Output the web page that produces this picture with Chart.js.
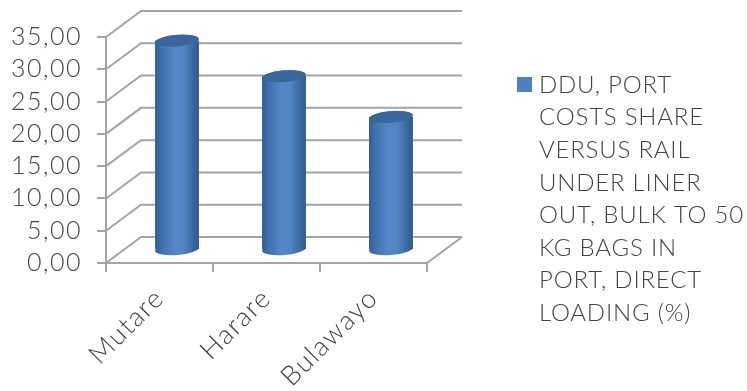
<!DOCTYPE html>
<html>
<head>
<meta charset="utf-8">
<script src="https://cdn.jsdelivr.net/npm/chart.js@4/dist/chart.umd.min.js"></script>
<style>
  html, body { margin: 0; padding: 0; background: #fff; }
  #box { width: 747px; height: 391px; }
  canvas { filter: blur(0.7px); }
</style>
</head>
<body>
<div id="box"><canvas id="grafico" width="747" height="391"></canvas></div>
<script>
const ciudades = ["Mutare", "Harare", "Bulawayo"];
const valores = [32.4, 26.9, 20.6];
const etiquetaSerie = "DDU, PORT COSTS SHARE VERSUS RAIL UNDER LINER OUT, BULK TO 50 KG BAGS IN PORT, DIRECT LOADING (%)";
const lineasLeyenda = ["DDU, PORT", "COSTS SHARE", "VERSUS RAIL", "UNDER LINER", "OUT, BULK TO 50", "KG BAGS IN", "PORT, DIRECT", "LOADING (%)"];

const fuente = "Lato, 'Open Sans', sans-serif";
const gris = '#a4a4a4';
const textoGris = '#444444';
const fondoX = 35, fondoY = -26;      // profundidad de la caja 3D
const radioY = 6, inclinacion = -0.08;

function degradado(ctx, xc, ancho) {
    const g = ctx.createLinearGradient(xc - ancho / 2, 0, xc + ancho / 2, 0);
    g.addColorStop(0, '#2f5d94');
    g.addColorStop(0.12, '#3d6ea9');
    g.addColorStop(0.45, '#5688c9');
    g.addColorStop(0.65, '#5184c3');
    g.addColorStop(0.9, '#37649b');
    g.addColorStop(1, '#2f5a8e');
    return g;
}

// paredes, cilindros y leyenda
const caja3d = {
    id: 'caja3d',
    beforeDraw(chart) {
        chart.ctx.letterSpacing = '1.5px';
    },
    beforeDatasetsDraw(chart) {
        const { ctx, chartArea: a, scales: { y } } = chart;
        ctx.save();
        ctx.strokeStyle = gris;
        ctx.lineWidth = 2;
        y.ticks.forEach(t => {
            const py = y.getPixelForValue(t.value);
            ctx.beginPath();
            ctx.moveTo(a.left, py);
            ctx.lineTo(a.left + fondoX, py + fondoY);
            ctx.lineTo(a.right + fondoX, py + fondoY);
            ctx.stroke();
        });
        ctx.beginPath();
        ctx.moveTo(a.right, a.bottom);
        ctx.lineTo(a.right + fondoX, a.bottom + fondoY);
        ctx.stroke();
        ctx.restore();
    },
    beforeDatasetDraw(chart, args) {
        const ctx = chart.ctx;
        ctx.save();
        ctx.translate(fondoX / 2, fondoY / 2);
        // base de cada cilindro
        chart.getDatasetMeta(args.index).data.forEach(b => {
            ctx.fillStyle = degradado(ctx, b.x, b.width);
            ctx.beginPath();
            ctx.ellipse(b.x, b.base, b.width / 2, radioY, inclinacion, 0, Math.PI * 2);
            ctx.fill();
        });
    },
    afterDatasetDraw(chart, args) {
        const ctx = chart.ctx;
        // tapa de cada cilindro
        chart.getDatasetMeta(args.index).data.forEach(b => {
            ctx.fillStyle = degradado(ctx, b.x, b.width);
            ctx.beginPath();
            ctx.ellipse(b.x, b.y, b.width / 2, radioY, inclinacion, 0, Math.PI * 2);
            ctx.fill();
            ctx.fillStyle = '#3b6699';
            ctx.beginPath();
            ctx.ellipse(b.x, b.y, b.width / 2 - 0.5, radioY - 0.3, inclinacion, 0, Math.PI * 2);
            ctx.fill();
        });
        ctx.restore();
    },
    afterDraw(chart) {
        const ctx = chart.ctx;
        ctx.save();
        ctx.fillStyle = '#4f81bd';
        ctx.fillRect(517, 77, 15, 15);
        ctx.fillStyle = textoGris;
        ctx.font = '300 24px ' + fuente;
        ctx.letterSpacing = '0.8px';
        ctx.textBaseline = 'middle';
        lineasLeyenda.forEach((l, i) => ctx.fillText(l, 539, 85 + i * 32.6));
        ctx.restore();
    }
};

new Chart(document.getElementById('grafico'), {
    type: 'bar',
    data: {
        labels: ciudades,
        datasets: [{
            label: etiquetaSerie,
            data: valores,
            clip: false,
            barPercentage: 0.41,
            categoryPercentage: 1,
            backgroundColor: c => {
                const x = c.dataIndex === undefined ? NaN : c.chart.scales.x.getPixelForValue(c.dataIndex);
                return isFinite(x) ? degradado(c.chart.ctx, x, 44) : '#4f81bd';
            }
        }]
    },
    plugins: [caja3d],
    options: {
        responsive: false,
        animation: false,
        layout: { padding: { top: 37, right: 320, left: 0, bottom: 0 } },
        plugins: { legend: { display: false }, tooltip: { enabled: false } },
        scales: {
            x: {
                afterFit(scale) { scale.height = 128; },
                grid: { offset: true, drawOnChartArea: false, color: gris, lineWidth: 2, tickLength: 9 },
                border: { color: gris, width: 2 },
                ticks: {
                    color: textoGris,
                    autoSkip: false,
                    minRotation: 45,
                    maxRotation: 45,
                    padding: 10,
                    font: { family: fuente, size: 27, weight: '300' }
                }
            },
            y: {
                min: 0,
                max: 35,
                afterFit(scale) { scale.width = 106; },
                grid: { drawOnChartArea: false, color: gris, lineWidth: 2, tickLength: 9 },
                border: { color: gris, width: 2 },
                ticks: {
                    stepSize: 5,
                    autoSkip: false,
                    color: textoGris,
                    padding: 15,
                    font: { family: fuente, size: 25, weight: '300' },
                    callback: v => v.toFixed(2).replace('.', ',')
                }
            }
        }
    }
});
</script>
</body>
</html>
